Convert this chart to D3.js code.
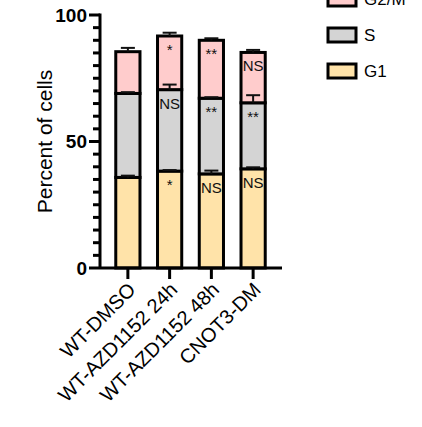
<!DOCTYPE html>
<html>
<head>
<meta charset="utf-8">
<script src="https://cdn.jsdelivr.net/npm/d3@7"></script>
<style>
  body { margin: 0; background: #fff; }
  svg { display: block; font-family: "Liberation Sans", Arial, sans-serif; }
</style>
</head>
<body>
<div id="chart"></div>
<script>
// data
const samples = ["WT-DMSO", "WT-AZD1152 24h", "WT-AZD1152 48h", "CNOT3-DM"];
const phases = ["G1", "S", "G2/M"];
const g1Values = [35.8, 38.3, 37.2, 39.2];
const sValues = [33.2, 32.2, 29.9, 26.1];
const g2mValues = [16.5, 21.2, 22.9, 19.9];
const g1Err = [0.7, 0.4, 1.3, 0.6];
const sErr = [0.5, 2.0, 0.4, 3.0];
const g2mErr = [1.5, 1.3, 0.8, 1.0];
const g1Marks = ["", "*", "NS", "NS"];
const sMarks = ["", "NS", "**", "**"];
const g2mMarks = ["", "*", "**", "NS"];
const yTicks = [0, 50, 100];

const width = 422, height = 427;

const colors = d3.scaleOrdinal()
  .domain(phases)
  .range(["#FFE3A9", "#D4D4D4", "#FFCCCC"]);

const table = samples.map((s, i) => ({
  sample: s,
  "G1": g1Values[i], "S": sValues[i], "G2/M": g2mValues[i],
  err: { "G1": g1Err[i], "S": sErr[i], "G2/M": g2mErr[i] },
  mark: { "G1": g1Marks[i], "S": sMarks[i], "G2/M": g2mMarks[i] }
}));

const series = d3.stack().keys(phases)(table);

const svg = d3.select("#chart")
  .append("svg")
    .attr("width", width)
    .attr("height", height);

const x = d3.scaleBand()
  .domain(samples)
  .range([107, 274])
  .paddingInner(0.42)
  .paddingOuter(0.21);

const y = d3.scaleLinear()
  .domain([0, 100])
  .range([268, 15]);

// bars
const layers = svg.selectAll(".layer")
  .data(series)
  .join("g")
    .attr("class", "layer")
    .attr("fill", d => colors(d.key));

layers.selectAll("rect")
  .data(d => d)
  .join("rect")
    .attr("x", d => x(d.data.sample))
    .attr("y", d => y(d[1]))
    .attr("width", x.bandwidth())
    .attr("height", d => y(d[0]) - y(d[1]))
    .attr("stroke", "#000")
    .attr("stroke-width", 3);

// error bars (upward only)
series.forEach(s => {
  const g = svg.append("g").attr("stroke", "#111").attr("stroke-width", 2);
  s.forEach(d => {
    const cx = x(d.data.sample) + x.bandwidth() / 2;
    const top = y(d[1] + d.data.err[s.key]);
    g.append("line")
      .attr("x1", cx).attr("x2", cx)
      .attr("y1", y(d[1])).attr("y2", top);
    g.append("line")
      .attr("x1", cx - 7).attr("x2", cx + 7)
      .attr("y1", top).attr("y2", top);
  });
});

// significance marks
series.forEach(s => {
  svg.append("g").selectAll("text")
    .data(s)
    .join("text")
      .attr("x", d => x(d.data.sample) + x.bandwidth() / 2)
      .attr("y", d => y(d[1]) + 19)
      .attr("text-anchor", "middle")
      .attr("fill", "#111")
      .style("font-size", "15px")
      .text(d => d.data.mark[s.key]);
});

// y axis
const yAxis = svg.append("g")
  .attr("transform", "translate(100,0)");

yAxis.append("line")
  .attr("x1", 0).attr("x2", 0)
  .attr("y1", y(100) - 1.5).attr("y2", y(0))
  .attr("stroke", "#000").attr("stroke-width", 3);

yAxis.selectAll(".minor")
  .data(d3.range(0, 101, 5))
  .join("line")
    .attr("class", "minor")
    .attr("x1", d => yTicks.includes(d) ? -11 : -7)
    .attr("x2", 0)
    .attr("y1", d => y(d)).attr("y2", d => y(d))
    .attr("stroke", "#000").attr("stroke-width", 3);

yAxis.selectAll(".ylab")
  .data(yTicks)
  .join("text")
    .attr("class", "ylab")
    .attr("x", -13)
    .attr("y", d => y(d))
    .attr("dy", "0.35em")
    .attr("text-anchor", "end")
    .style("font-size", "19px")
    .style("font-weight", "bold")
    .text(d => d);

svg.append("text")
  .attr("transform", `translate(52, ${(y(0) + y(100)) / 2}) rotate(-90)`)
  .attr("text-anchor", "middle")
  .style("font-size", "21px")
  .text("Percent of cells");

// x axis
svg.append("line")
  .attr("x1", 100).attr("x2", 282)
  .attr("y1", y(0)).attr("y2", y(0))
  .attr("stroke", "#000").attr("stroke-width", 3);

svg.selectAll(".xtick")
  .data(samples)
  .join("line")
    .attr("class", "xtick")
    .attr("x1", d => x(d) + x.bandwidth() / 2)
    .attr("x2", d => x(d) + x.bandwidth() / 2)
    .attr("y1", y(0)).attr("y2", y(0) + 11)
    .attr("stroke", "#000").attr("stroke-width", 3);

svg.selectAll(".xlab")
  .data(samples)
  .join("text")
    .attr("class", "xlab")
    .attr("transform", d => `translate(${x(d) + x.bandwidth() / 2 + 9}, ${y(0) + 23}) rotate(-45)`)
    .attr("text-anchor", "end")
    .style("font-size", "20px")
    .text(d => d);

// legend
const legend = svg.append("g")
  .attr("transform", "translate(328, 0)");

const legendRows = legend.selectAll(".row")
  .data(phases.slice().reverse())
  .join("g")
    .attr("class", "row")
    .attr("transform", (d, i) => `translate(0, ${-1 + i * 36})`);

legendRows.append("rect")
  .attr("x", 0).attr("y", -7)
  .attr("width", 28).attr("height", 14)
  .attr("fill", d => colors(d))
  .attr("stroke", "#000")
  .attr("stroke-width", 3);

legendRows.append("text")
  .attr("x", 36)
  .attr("y", 0)
  .attr("dy", "0.36em")
  .style("font-size", "17px")
  .text(d => d);
</script>
</body>
</html>
